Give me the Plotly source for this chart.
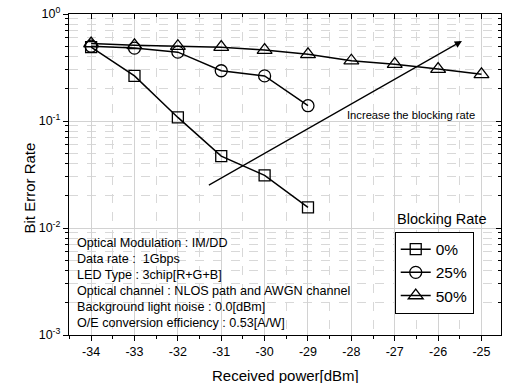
import math
import plotly.graph_objects as go

power = [-34, -33, -32, -31, -30, -29, -28, -27, -26, -25]
ber_0 = [0.49, 0.264, 0.108, 0.047, 0.031, 0.0156]
ber_25 = [0.50, 0.48, 0.44, 0.295, 0.264, 0.139]
ber_50 = [0.53, 0.51, 0.50, 0.49, 0.46, 0.42, 0.366, 0.34, 0.306, 0.273]
series_names = ["0%", "25%", "50%"]
x_ticks = [-34, -33, -32, -31, -30, -29, -28, -27, -26, -25]
x_ticklabels = ["-34", "-33", "-32", "-31", "-30", "-29", "-28", "-27", "-26", "-25"]
y_ticks = [1e-3, 1e-2, 1e-1, 1]
y_ticklabels = ["10<sup>-3</sup>", "10<sup>-2</sup>", "10<sup>-1</sup>", "10<sup>0</sup>"]
info_lines = [
    "Optical Modulation : IM/DD",
    "Data rate :  1Gbps",
    "LED Type : 3chip[R+G+B]",
    "Optical channel : NLOS path and AWGN channel",
    "Background light noise : 0.0[dBm]",
    "O/E conversion efficiency : 0.53[A/W]",
]
arrow_start = (-31.32, 0.0247)
arrow_end = (-25.45, 0.56)
arrow_label = "Increase the blocking rate"
arrow_label_pos = (-26.63, 0.114)

FONT = "Liberation Sans, Arial, sans-serif"
x_minor = [v + 0.5 for v in range(-35, -24)]
y_minor = [m * 10 ** e for e in (-3, -2, -1) for m in range(2, 10)]
xr = [-34.51, -24.55]
yr = [-3, 0]

fig = go.Figure()
styles = [("square-open", 11), ("circle-open", 12), ("triangle-up-open", 13)]
for name, ys, (sym, sz) in zip(series_names, [ber_0, ber_25, ber_50], styles):
    fig.add_trace(go.Scatter(
        x=power[:len(ys)], y=ys, name=name, mode="lines+markers",
        line=dict(color="black", width=1.5),
        marker=dict(symbol=sym, size=sz, color="black", line=dict(width=1.3, color="black")),
    ))
# invisible trace for mirrored axes
fig.add_trace(go.Scatter(x=[power[0]], y=[ber_0[0]], xaxis="x2", yaxis="y2",
                         mode="markers", marker=dict(opacity=0), showlegend=False,
                         hoverinfo="skip"))

grid_major = "#d2d2d2"
grid_minor = "#d8d8d8"
fig.update_layout(
    width=508, height=383,
    margin=dict(l=69, r=7, t=14, b=48, autoexpand=False),
    paper_bgcolor="white", plot_bgcolor="white",
    font=dict(family=FONT, size=12, color="black"),
    xaxis=dict(
        range=xr, tickmode="array", tickvals=x_ticks, ticktext=x_ticklabels,
        ticks="outside", ticklen=5, tickwidth=1, tickcolor="black",
        showline=True, linecolor="black", linewidth=1.2, automargin=False,
        showgrid=True, gridcolor=grid_major, gridwidth=1, zeroline=False,
        tickfont=dict(size=12.5),
        minor=dict(tickmode="array", tickvals=x_minor, ticks="outside", ticklen=3,
                   tickcolor="black", showgrid=True, gridcolor=grid_minor, griddash="dash"),
    ),
    yaxis=dict(
        type="log", range=yr, tickmode="array", tickvals=y_ticks, ticktext=y_ticklabels,
        ticks="outside", ticklen=5, tickwidth=1, tickcolor="black",
        showline=True, linecolor="black", linewidth=1.2, automargin=False,
        showgrid=True, gridcolor=grid_major, gridwidth=1, zeroline=False,
        tickfont=dict(size=12.5),
        minor=dict(tickmode="array", tickvals=y_minor, ticks="outside", ticklen=3,
                   tickcolor="black", showgrid=True, gridcolor=grid_minor, griddash="dash"),
    ),
    xaxis2=dict(
        overlaying="x", side="top", range=xr, tickmode="array", tickvals=x_ticks,
        showticklabels=False, ticks="inside", ticklen=5, tickcolor="black",
        showline=True, linecolor="black", linewidth=1.2, showgrid=False, zeroline=False,
        automargin=False,
        minor=dict(tickmode="array", tickvals=x_minor, ticks="inside", ticklen=3,
                   tickcolor="black", showgrid=False),
    ),
    yaxis2=dict(
        overlaying="y", side="right", type="log", range=yr, tickmode="array",
        tickvals=y_ticks, showticklabels=False, ticks="inside", ticklen=5,
        tickcolor="black", showline=True, linecolor="black", linewidth=1.2,
        showgrid=False, zeroline=False, automargin=False,
        minor=dict(tickmode="array", tickvals=y_minor, ticks="inside", ticklen=3,
                   tickcolor="black", showgrid=False),
    ),
    showlegend=True,
    legend=dict(
        x=0.754, y=0.322, xanchor="left", yanchor="top",
        bordercolor="black", borderwidth=1, bgcolor="white",
        font=dict(size=15.5, family=FONT), itemwidth=30,
        tracegroupgap=0,
    ),
)

# plot area: x 69..501, y 14..335
def px_to_paper(px, py):
    return (px - 69) / 432.0, (335 - py) / 321.0

anns = []
for i, line in enumerate(info_lines):
    xp, yp = px_to_paper(75, 243 + i * 15.9)
    anns.append(dict(text=line, x=xp, y=yp, xref="paper", yref="paper",
                     xanchor="left", yanchor="middle", showarrow=False,
                     font=dict(size=12.6, family=FONT)))
xp, yp = px_to_paper(395, 219)
anns.append(dict(text="Blocking Rate", x=xp, y=yp, xref="paper", yref="paper",
                 xanchor="left", yanchor="middle", showarrow=False,
                 font=dict(size=14.5, family=FONT)))
anns.append(dict(text="Bit Error Rate", x=(18 - 69) / 432.0, y=px_to_paper(0, 188)[1],
                 xref="paper", yref="paper",
                 showarrow=False, textangle=-90, font=dict(size=15, family=FONT)))
anns.append(dict(text="Received power[dBm]", x=0.5, y=(335 - 375) / 321.0,
                 xref="paper", yref="paper", xanchor="center", yanchor="middle",
                 showarrow=False, font=dict(size=15, family=FONT)))
anns.append(dict(text=arrow_label, x=arrow_label_pos[0], y=math.log10(arrow_label_pos[1]),
                 xref="x", yref="y", showarrow=False, font=dict(size=11.2, family=FONT)))
anns.append(dict(text="", x=arrow_end[0], y=math.log10(arrow_end[1]),
                 ax=arrow_start[0], ay=math.log10(arrow_start[1]),
                 xref="x", yref="y", axref="x", ayref="y", showarrow=True,
                 arrowhead=2, arrowsize=1.2, arrowwidth=1.2, arrowcolor="black"))
fig.update_layout(annotations=anns)

fig.write_html("out.html", config={"displayModeBar": False},
               post_script="document.body.style.margin='0';document.body.style.padding='0';")
